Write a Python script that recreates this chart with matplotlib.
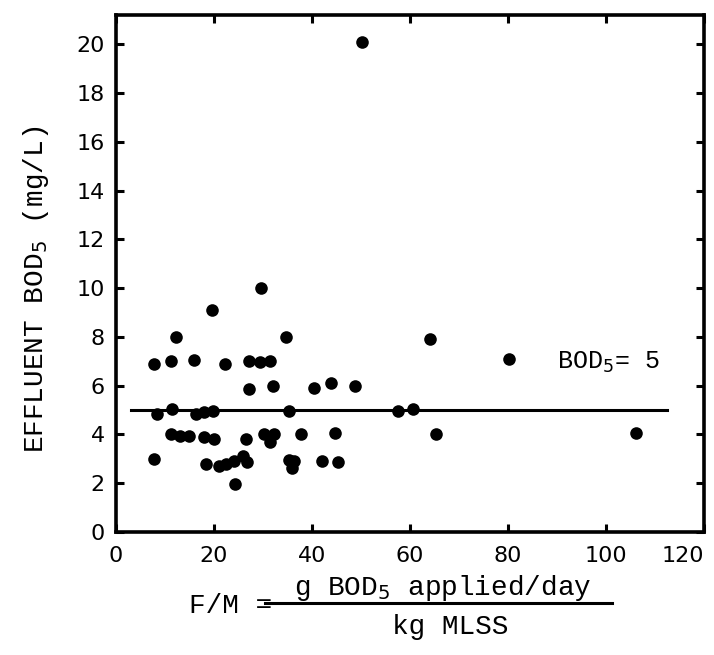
import numpy as np
import matplotlib
matplotlib.use("Agg")
import matplotlib.pyplot as plt
from matplotlib.lines import Line2D

# F/M loading vs effluent BOD5
fm = [50.3, 29.6, 19.7, 12.3, 34.7, 64.2, 80.2,
      7.8, 11.2, 15.9, 22.3, 27.2, 29.3, 31.4,
      27.2, 32.0, 40.4, 44.0, 48.9,
      8.3, 11.5, 16.4, 17.9, 19.8, 35.4, 57.6, 60.6,
      11.3, 13.0, 15.0, 17.9, 20.0, 26.6, 30.3, 32.3, 31.5, 37.7, 44.7, 65.4, 106.2,
      7.8, 18.4, 21.1, 22.5, 24.0, 26.0, 26.8, 35.4, 36.4, 36.0, 42.1, 45.3,
      24.2]
bod = [20.1, 10.0, 9.1, 8.0, 8.0, 7.9, 7.1,
       6.9, 7.0, 7.05, 6.9, 7.0, 6.95, 7.0,
       5.85, 6.0, 5.9, 6.1, 6.0,
       4.85, 5.05, 4.85, 4.9, 4.95, 4.95, 4.95, 5.05,
       4.0, 3.95, 3.95, 3.9, 3.8, 3.8, 4.0, 4.0, 3.7, 4.0, 4.05, 4.0, 4.05,
       3.0, 2.8, 2.7, 2.8, 2.9, 3.1, 2.85, 2.95, 2.9, 2.6, 2.9, 2.85,
       1.95]

line_x = [3.0, 112.5]
line_y = [5.0, 5.0]

xticks = [0, 20, 40, 60, 80, 100, 120]
yticks = list(range(0, 21, 2))

mono = "Liberation Mono"

fig = plt.figure(figsize=(7.14, 6.55), dpi=100)
ax = fig.add_axes([0.1625, 0.188, 0.823, 0.789])

ax.scatter(fm, bod, s=82, color="black", zorder=3, linewidths=0)
ax.plot(line_x, line_y, color="black", lw=2.2, zorder=2)

ax.text(100.5, 6.45, r"BOD$_5$= 5", fontsize=18, family=mono, ha="center", va="bottom")

ax.set_xlim(0, 120)
ax.set_ylim(0, 21.2)
ax.set_xticks(xticks, labels=[str(v) for v in xticks], fontsize=16)
ax.set_yticks(yticks, labels=[str(v) for v in yticks], fontsize=16)
ax.tick_params(axis="both", direction="in", length=6, width=2.2,
               top=True, right=True)
ax.tick_params(axis="x", pad=10)
ax.tick_params(axis="y", pad=8)
ax.get_xticklabels()[-1].set_ha("right")
for s in ax.spines.values():
    s.set_linewidth(2.6)

ax.set_ylabel(r"EFFLUENT BOD$_5$ (mg/L)", fontsize=20, family=mono)
ax.yaxis.set_label_coords(-0.11, 0.47)

# x label drawn as a fraction
fig.text(0.323, 0.075, "F/M =", fontsize=20, family=mono, ha="center", va="center")
fig.text(0.62, 0.103, r"g BOD$_5$ applied/day", fontsize=20, family=mono,
         ha="center", va="center")
fig.text(0.63, 0.043, "kg MLSS", fontsize=20, family=mono, ha="center", va="center")
fig.add_artist(Line2D([0.371, 0.857], [0.0794, 0.0794], color="black", lw=2.2,
                      transform=fig.transFigure))

fig.savefig("out.png", dpi=100)
